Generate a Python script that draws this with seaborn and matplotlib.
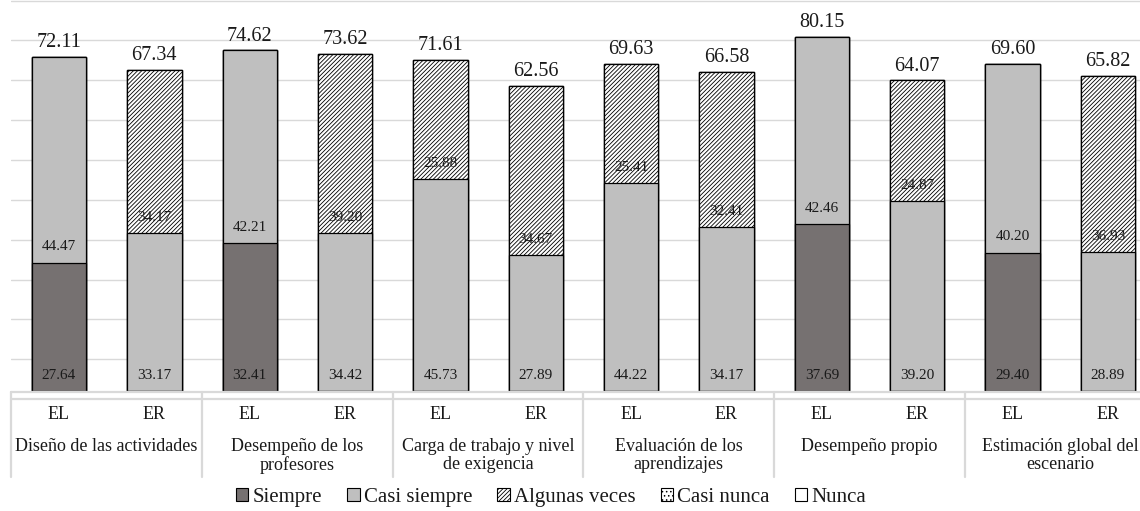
import matplotlib
matplotlib.use("Agg")
import matplotlib.pyplot as plt
import seaborn as sns
import pandas as pd
import numpy as np
from matplotlib.patches import Patch

sns.set_style("white")
plt.rcParams["font.family"] = ["Liberation Serif", "DejaVu Serif"]
plt.rcParams["hatch.color"] = "#666666"
plt.rcParams["hatch.linewidth"] = 0.6

# data
groups = ["Diseño de las actividades", "Desempeño de los\nprofesores",
          "Carga de trabajo y nivel\nde exigencia", "Evaluación de los\naprendizajes",
          "Desempeño propio", "Estimación global del\nescenario"]
scenarios = ["EL", "ER"]
series = ["Siempre", "Casi siempre", "Algunas veces", "Casi nunca", "Nunca"]

siempre = [27.64, 0, 32.41, 0, 0, 0, 0, 0, 37.69, 0, 29.40, 0]
casi_siempre = [44.47, 33.17, 42.21, 34.42, 45.73, 27.89, 44.22, 34.17, 42.46, 39.20, 40.20, 28.89]
algunas_veces = [0, 34.17, 0, 39.20, 25.88, 34.67, 25.41, 32.41, 0, 24.87, 0, 36.93]
casi_nunca = [0] * 12
nunca = [0] * 12
totals = [72.11, 67.34, 74.62, 73.62, 71.61, 62.56, 69.63, 66.58, 80.15, 64.07, 69.60, 65.82]
# drawn bar heights as they appear in the picture (% of the plot height)
bar_height = [85.5, 82.0, 87.1, 86.3, 84.7, 78.0, 83.7, 81.5, 90.6, 79.4, 83.7, 80.6]

df = pd.DataFrame({
    "key": [f"{g}|{s}" for g in groups for s in scenarios],
    "Siempre": siempre,
    "Casi siempre": casi_siempre,
    "Algunas veces": algunas_veces,
    "Casi nunca": casi_nunca,
    "Nunca": nunca,
    "total": totals,
    "height": bar_height,
})
# segments keep their share of each bar
scale = df["height"] / df["total"]
cum = df[series].cumsum(axis=1).mul(scale, axis=0)

styles = {
    "Siempre": dict(color="#767171", hatch=None),
    "Casi siempre": dict(color="#bfbfbf", hatch=None),
    "Algunas veces": dict(color="white", hatch="////////"),
    "Casi nunca": dict(color="white", hatch="...."),
    "Nunca": dict(color="white", hatch=None),
}

fig = plt.figure(figsize=(11.4, 5.11), dpi=100)
H = 390.7  # axes height in px
ax = fig.add_axes([11.3 / 1140, (511 - 390.7) / 511, 1144.3 / 1140, H / 511])

# stacked bars: draw cumulative layers from the top series down
for s in reversed(series):
    st = styles[s]
    sns.barplot(x=df["key"], y=cum[s], ax=ax, color=st["color"], saturation=1,
                width=0.57, edgecolor="black", linewidth=0.9, hatch=st["hatch"],
                order=list(df["key"]))

ax.set_ylim(0, 100)
ax.set_xlim(-0.5, len(df) - 0.5)
ax.set_yticks(np.arange(8.04, 100.5, 10.2))
ax.grid(axis="y", color="#d9d9d9", linewidth=1)
ax.set_axisbelow(True)
ax.tick_params(left=False, bottom=False, labelleft=False, labelbottom=False)
ax.set_xlabel("")
ax.set_ylabel("")
sns.despine(ax=ax, left=True, bottom=True, top=True, right=True)

# segment labels (inside base) and totals
prev = np.zeros(len(df))
for s in series:
    vals = df[s].to_numpy()
    for i, v in enumerate(vals):
        if v > 0:
            ax.annotate(f"{v:.2f}", (i, prev[i] * scale[i]), xytext=(0, 11.3),
                        textcoords="offset points", ha="center", va="center",
                        fontsize=11, color="#1a1a1a")
    prev = prev + vals
for i, (t, h) in enumerate(zip(df["total"], df["height"])):
    ax.annotate(f"{t:.2f}", (i, h), xytext=(0, 3.5), textcoords="offset points",
                ha="center", va="bottom", fontsize=14.5, color="#1a1a1a")

# category table under the bars
tr = ax.get_xaxis_transform()
def fy(px):
    return (390.7 - px) / H

line_kw = dict(color="#d9d9d9", linewidth=1.6, clip_on=False, transform=tr)
ax.plot([-0.5, len(df) - 0.5], [fy(391.5), fy(391.5)], **line_kw)
ax.plot([-0.5, len(df) - 0.5], [fy(399), fy(399)], **line_kw)
for g in range(len(groups) + 1):
    ax.plot([2 * g - 0.5, 2 * g - 0.5], [fy(391.5), fy(477)], **line_kw)

for i, key in enumerate(df["key"]):
    ax.text(i, fy(414), key.split("|")[1], transform=tr, ha="center", va="center",
            fontsize=13, color="#1a1a1a")
for g, name in enumerate(groups):
    ax.text(2 * g + 0.5, fy(438), name, transform=tr, ha="center", va="top",
            fontsize=13, linespacing=1.08, multialignment="center", color="#1a1a1a")

handles = [Patch(facecolor=styles[s]["color"], edgecolor="black", linewidth=0.8,
                 hatch=styles[s]["hatch"], label=s) for s in series]
fig.legend(handles=handles, loc="center", bbox_to_anchor=(551 / 1140, (511 - 497) / 511),
           ncol=5, frameon=False, prop={"family": "Liberation Serif", "size": 15},
           handlelength=0.6, handleheight=0.6, handletextpad=0.2, columnspacing=1.2,
           labelcolor="#1a1a1a")

fig.savefig("out.png", dpi=100)
